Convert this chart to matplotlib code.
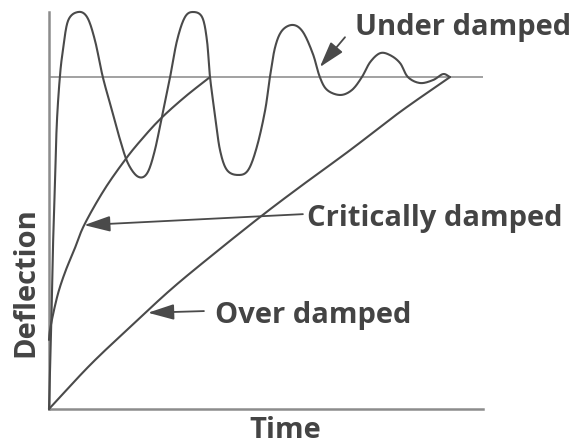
import numpy as np
import matplotlib
matplotlib.use("Agg")
import matplotlib.pyplot as plt

# ---- data (time 0..10, deflection, steady state = 1) ----
under_t = [0.0, 0.05, 0.09, 0.14, 0.18, 0.25, 0.32, 0.44, 0.67, 0.88, 1.06, 1.24,
           1.45, 1.64, 1.82, 2.05, 2.26, 2.44, 2.63, 2.79, 2.95, 3.13, 3.32, 3.53,
           3.64, 3.71, 3.83, 3.94, 4.10, 4.36, 4.59, 4.79, 4.98, 5.09, 5.21, 5.37,
           5.62, 5.85, 6.08, 6.24, 6.41, 6.71, 6.98, 7.21, 7.40, 7.63, 7.86, 8.09,
           8.27, 8.55, 8.85, 9.08, 9.24]
under_y = [0.0, 0.24, 0.48, 0.69, 0.86, 1.0, 1.08, 1.17, 1.196, 1.18, 1.11, 1.0,
           0.90, 0.81, 0.74, 0.70, 0.71, 0.78, 0.90, 1.0, 1.11, 1.18, 1.196, 1.18,
           1.11, 1.0, 0.88, 0.78, 0.72, 0.705, 0.72, 0.79, 0.90, 1.0, 1.09, 1.14,
           1.157, 1.136, 1.07, 1.0, 0.961, 0.946, 0.961, 1.0, 1.045, 1.072, 1.066, 1.042,
           1.0, 0.982, 0.991, 1.009, 1.0]

crit_t = [0.0, 0.023, 0.115, 0.23, 0.39, 0.58, 0.81, 1.27, 1.75, 2.10, 2.56, 3.13, 3.71]
crit_y = [0.208, 0.238, 0.298, 0.358, 0.419, 0.479, 0.554, 0.660, 0.750, 0.807,
          0.873, 0.940, 1.0]

over_t = [0.0, 0.95, 1.87, 2.79, 3.71, 4.86, 5.78, 6.94, 8.09, 9.24]
over_y = [0.0, 0.133, 0.247, 0.358, 0.458, 0.578, 0.669, 0.780, 0.895, 1.0]

steady_level = 1.0

labels = ["Under damped", "Critically damped", "Over damped"]
# arrow tail / tip and text anchor, in data units
arrow_tail = [(6.82, 1.12), (5.85, 0.587), (3.57, 0.295)]
arrow_tip = [(6.24, 1.03), (0.81, 0.554), (2.28, 0.290)]
text_pos = [(7.05, 1.15), (5.94, 0.575), (3.82, 0.283)]


def smooth(x, y, n=16):
    """Uniform Catmull-Rom rendering through the read points."""
    p = np.column_stack([x, y]).astype(float)
    p = np.vstack([2 * p[0] - p[1], p, 2 * p[-1] - p[-2]])
    out = []
    s = np.linspace(0, 1, n, endpoint=False)[:, None]
    for i in range(1, len(p) - 2):
        p0, p1, p2, p3 = p[i - 1], p[i], p[i + 1], p[i + 2]
        seg = 0.5 * ((2 * p1) + (-p0 + p2) * s + (2 * p0 - 5 * p1 + 4 * p2 - p3) * s ** 2
                     + (-p0 + 3 * p1 - 3 * p2 + p3) * s ** 3)
        out.append(seg)
    out.append(p[-2][None, :])
    out = np.vstack(out)
    return out[:, 0], out[:, 1]


plt.rcParams['font.family'] = ['Open Sans', 'DejaVu Sans']

fig = plt.figure(figsize=(5.84, 4.48), dpi=100)
ax = fig.add_axes([49 / 584, 1 - 409 / 448, 434 / 584, 397 / 448])
ax.set_xlim(0, 10)
ax.set_ylim(0, 1.196)

line_col = "#4a4a4a"
ax.axhline(steady_level, color="#9a9a9a", lw=1.3, zorder=1)

for t, y in [(under_t, under_y), (crit_t, crit_y), (over_t, over_y)]:
    xs, ys = smooth(t, y)
    ax.plot(xs, ys, color=line_col, lw=1.5, clip_on=False, zorder=3,
            solid_capstyle='round', solid_joinstyle='round')

txt_col = "#444444"
for lab, tail, tip, tp in zip(labels, arrow_tail, arrow_tip, text_pos):
    ax.annotate("", xy=tip, xytext=tail, annotation_clip=False,
                arrowprops=dict(arrowstyle="-|>,head_length=0.8,head_width=0.24",
                                mutation_scale=20, color=line_col, lw=1.3,
                                shrinkA=0, shrinkB=0))
    ax.text(tp[0], tp[1], lab, ha="left", va="center", fontsize=21,
            fontweight="bold", color=txt_col, clip_on=False)

for side in ["top", "right"]:
    ax.spines[side].set_visible(False)
for side in ["left", "bottom"]:
    ax.spines[side].set_color("#8c8c8c")
    ax.spines[side].set_linewidth(1.8)
ax.set_xticks([])
ax.set_yticks([])

ax.text((285 - 49) / 434, (409 - 430) / 397, "Time", transform=ax.transAxes,
        ha="center", va="center", fontsize=21, fontweight="bold", color=txt_col)
ax.text((26 - 49) / 434, (409 - 282) / 397, "Deflection", transform=ax.transAxes,
        ha="center", va="center", rotation=90, fontsize=21, fontweight="bold",
        color=txt_col)

fig.savefig("out.png", dpi=100, facecolor="white")
